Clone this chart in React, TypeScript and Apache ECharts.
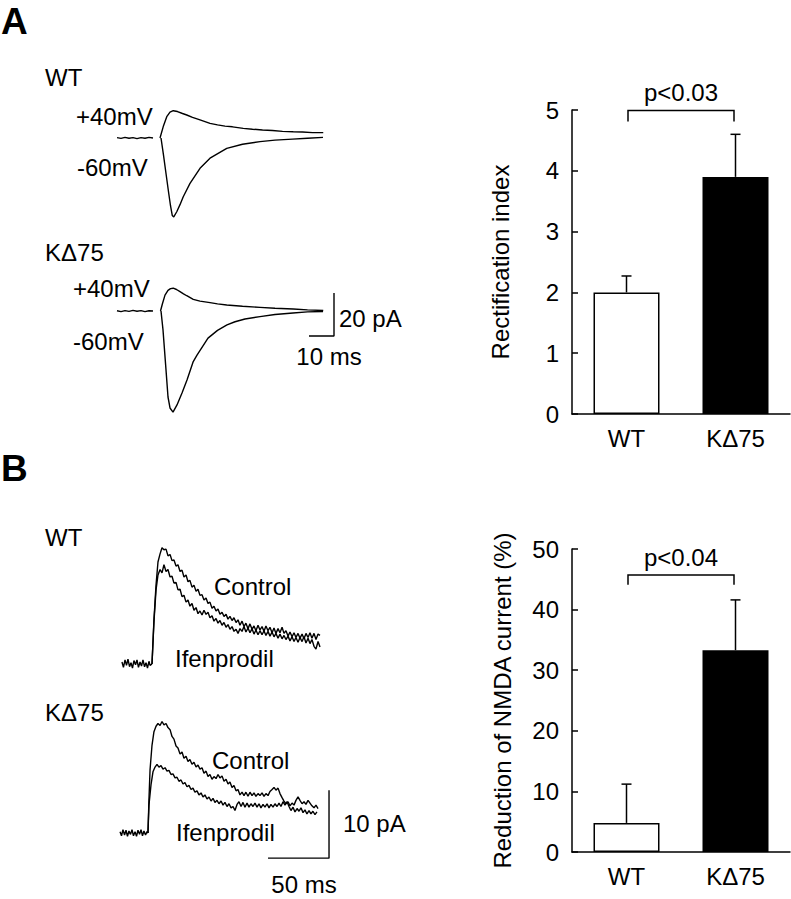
import React, { useEffect, useRef } from "react";
import * as echarts from "echarts";

const FONT = '"Liberation Sans", Arial, Helvetica, sans-serif';

// ---------- Panel A traces (x: ms, y: pA) ----------
const WT_A_BASE = [[-17.2, 0.2], [-15.6, -0.2], [-14, 0.3], [-12.4, -0.1], [-10.8, 0.2], [-9.2, -0.3], [-7.6, 0.2], [-6, -0.1], [-4.4, 0.3], [-2.8, 0]];
const WT_A_P40 = [[0, 0], [1.3, 5.3], [2.7, 9.9], [4, 12], [5.3, 12.7], [7, 12.3], [9, 11.4], [10.7, 10.7], [13, 9.6], [16, 8.4], [18, 7.6], [20, 6.8], [23, 6.1], [26, 5.5], [29, 5.2], [33.3, 4.5], [37, 4.1], [41, 3.7], [45, 3.5], [49, 3.1], [53.3, 2.9], [57, 2.8], [61, 2.5], [65.3, 2.5]];
const WT_A_M60 = [[0.4, 0], [1.4, -8], [2.4, -16.5], [3.4, -25], [4.2, -31.5], [4.9, -36], [5.5, -36.7], [6.7, -34.3], [8, -31], [9.3, -27.3], [12, -21.1], [16, -14.1], [20, -9.4], [26.7, -4.8], [33, -2.9], [40, -1.7], [46, -1], [53, -0.5], [59, -0.1], [65.2, 0.3]];

const K_A_BASE = [[-17.2, 0.1], [-15.6, -0.3], [-14, 0.2], [-12.4, -0.2], [-10.8, 0.3], [-9.2, -0.1], [-7.6, 0.2], [-6, -0.3], [-4.4, 0.1], [-2.8, 0]];
const K_A_P40 = [[0.2, 0], [1, 3.5], [2, 7.4], [3.2, 9.6], [4.2, 10.4], [5.3, 10.6], [6.6, 10], [8, 9], [9.4, 8], [10.7, 7.1], [13.3, 5.4], [16, 4.6], [20, 3.9], [23, 3.3], [26.7, 2.8], [33, 2.2], [40, 1.7], [46, 1.3], [53.3, 0.9], [59, 0.5], [65.3, 0.2]];
const K_A_M60 = [[0.4, 0], [1.2, -8.8], [2.4, -27.4], [3.2, -40], [4, -45.1], [5.2, -47], [6.8, -43.7], [8.8, -38.1], [10.8, -32.1], [13.3, -23.5], [14.8, -20.5], [19.2, -12.6], [23, -9], [26.8, -6.5], [30, -5], [34, -3.7], [40, -2.6], [46, -1.6], [53.2, -0.9], [59, -0.4], [65.2, -0.2]];

const SCALE_BAR_A = [[59.6, -11.6], [69.6, -11.6], [69.6, 8.4]]; // 10 ms, 20 pA

// ---------- Panel B traces (x: ms, y: pA) ----------
const WT_B_BASE = [[-24.6, 0.3], [-23.4, -0.5], [-22.1, 0.6], [-20.9, -0.2], [-19.7, 0.7], [-18.4, -0.4], [-17.2, 0.2], [-16, -0.6], [-14.8, 0.5], [-13.5, -0.1], [-12.3, 0.6], [-11.1, -0.5], [-9.8, 0.3], [-8.6, -0.3], [-7.4, 0.6], [-6.1, -0.4], [-4.9, 0.2], [-3.7, -0.6], [-2.5, 0.4], [-1.6, -0.2], [0, 0]];
const WT_B_CONTROL = [[0, 0], [1.6, 6.5], [3.3, 11.6], [4.9, 15], [6.6, 16.2], [8.2, 17.1], [9.8, 16.8], [11.5, 16.9], [13.1, 15.9], [14.8, 16.1], [16.4, 15.2], [18, 15.3], [19.7, 14.4], [21.3, 14.6], [23, 13.6], [24.6, 13.8], [26.2, 12.8], [27.9, 13.1], [29.5, 12.1], [31.1, 12.3], [32.8, 11.3], [34.4, 11.6], [36.1, 10.7], [37.7, 11], [39.3, 10.1], [41, 10.2], [42.6, 9.4], [44.3, 9.7], [45.9, 8.9], [47.5, 9.1], [49.2, 8.2], [50.8, 8.5], [52.5, 7.8], [54.1, 8.1], [55.7, 7.3], [57.4, 7.6], [59, 7], [60.7, 7.3], [62.3, 6.6], [63.9, 7], [65.6, 6.4], [67.2, 6.8], [68.9, 6.1], [70.5, 6.5], [72.1, 5.7], [73.8, 6.3], [75.4, 5.5], [77, 6], [78.7, 5.2], [80.3, 5.9], [82, 5.1], [83.6, 5.6], [85.2, 4.9], [86.9, 5.7], [88.5, 5], [90.2, 5.5], [91.8, 4.8], [93.4, 5.6], [95.1, 4.9], [96.7, 5.4], [98.4, 4.6], [100, 5.3], [101.6, 4.5], [103.3, 5.2], [104.9, 4.6], [106.6, 5.4], [108.2, 4.5], [109.8, 4.9], [111.5, 4.1], [113.1, 4.7], [114.8, 4], [116.4, 4.6], [118, 3.9], [119.7, 4.5], [121.3, 3.8], [123, 4.4], [124.6, 3.7], [126.2, 4.5], [127.9, 3.9], [129.5, 4.6], [131.1, 3.8], [132.8, 4.5], [134.4, 3.6], [136.1, 4.4], [137.7, 4.2]];
const WT_B_IFEN = [[0, 0], [1.6, 6.2], [3.3, 10.9], [4.9, 13.1], [6.6, 13.9], [8.2, 13.4], [9.8, 14.6], [11.5, 13.6], [13.1, 13.9], [14.8, 12.8], [16.4, 12.9], [18, 11.9], [19.7, 12], [21.3, 10.9], [23, 11], [24.6, 9.9], [26.2, 10.1], [27.9, 9.1], [29.5, 9.4], [31.1, 8.5], [32.8, 8.9], [34.4, 7.9], [36.1, 8.3], [37.7, 7.4], [39.3, 7.8], [41, 7.2], [42.6, 7.9], [44.3, 7.3], [45.9, 7.6], [47.5, 6.8], [49.2, 7.1], [50.8, 6.3], [52.5, 6.7], [54.1, 6], [55.7, 6.4], [57.4, 5.7], [59, 6.1], [60.7, 5.4], [62.3, 5.8], [63.9, 5.1], [65.6, 5.5], [67.2, 4.8], [68.9, 5.1], [70.5, 4.5], [72.1, 5.2], [73.8, 4.8], [75.4, 5.5], [77, 4.7], [78.7, 5.3], [80.3, 4.6], [82, 5.2], [83.6, 4.4], [85.2, 5], [86.9, 4.3], [88.5, 4.9], [90.2, 4.3], [91.8, 4.9], [93.4, 4.2], [95.1, 4.8], [96.7, 4.1], [98.4, 4.7], [100, 4], [101.6, 4.5], [103.3, 3.8], [104.9, 4.4], [106.6, 3.7], [108.2, 4.2], [109.8, 3.6], [111.5, 4.1], [113.1, 3.4], [114.8, 4], [116.4, 3.3], [118, 3.9], [119.7, 3.2], [121.3, 3.9], [123, 3.3], [124.6, 4], [126.2, 3.1], [127.9, 3.8], [129.5, 3], [131.1, 3.6], [132.8, 2.6], [134.4, 2.2], [136.1, 3.3], [137.7, 2.5]];

const K_B_BASE = [[-26.2, 0.2], [-25, -0.4], [-23.8, 0.5], [-22.5, -0.3], [-21.3, 0.4], [-20.1, -0.5], [-18.9, 0.3], [-17.6, -0.2], [-16.4, 0.5], [-15.2, -0.4], [-13.9, 0.2], [-12.7, -0.5], [-11.5, 0.4], [-10.2, -0.2], [-9, 0.5], [-7.8, -0.4], [-6.6, 0.3], [-5.3, -0.3], [-4.1, 0.2], [-3.3, 0]];
const K_B_CONTROL = [[-3.3, 0], [-2.5, 4.9], [-1.6, 9.3], [0, 12.9], [1.6, 14.9], [3.3, 15.7], [4.9, 16.1], [6.6, 15.8], [8.2, 16.4], [9.8, 15.9], [11.5, 16.1], [13.1, 15.5], [14.8, 15.2], [16.4, 14.2], [18, 13.8], [19.7, 12.8], [21.3, 12.5], [23, 11.6], [24.6, 11.9], [26.2, 11], [27.9, 11.3], [29.5, 10.5], [31.1, 10.8], [32.8, 10.1], [34.4, 10.4], [36.1, 9.7], [37.7, 10], [39.3, 9.4], [41, 9.6], [42.6, 8.8], [44.3, 9.1], [45.9, 8.3], [47.5, 8.6], [49.2, 7.9], [50.8, 8.3], [52.5, 8], [54.1, 8.6], [55.7, 8.1], [57.4, 8.4], [59, 7.6], [60.7, 7.9], [62.3, 7.2], [63.9, 7.5], [65.6, 6.7], [67.2, 7], [68.9, 6.2], [70.5, 6.4], [72.1, 5.6], [73.8, 6], [75.4, 5.5], [77, 6], [78.7, 5.4], [80.3, 6], [82, 5.5], [83.6, 5.9], [85.2, 5.4], [86.9, 5.8], [88.5, 5.5], [90.2, 5.9], [91.8, 5.4], [93.4, 5.8], [95.1, 5.5], [96.7, 6.1], [98.4, 6.4], [100, 6.7], [101.6, 6.3], [103.3, 6.6], [104.9, 5.8], [106.6, 5.2], [108.2, 4.7], [109.8, 4.3], [111.5, 4.6], [113.1, 4], [114.8, 4.4], [116.4, 4.1], [118, 4.8], [119.7, 5.3], [121.3, 4.8], [123, 4.3], [124.6, 4.6], [126.2, 4.2], [127.9, 4.8], [129.5, 4.4], [131.1, 4], [132.8, 3.7], [134.4, 4.1], [136.1, 3.6]];
const K_B_IFEN = [[-3.3, 0], [-2.5, 4.1], [-0.8, 7.1], [0.8, 9], [2.5, 9.7], [4.1, 10.1], [5.7, 9.7], [7.4, 9.9], [9, 9.4], [10.7, 9.6], [12.3, 9.1], [13.9, 9.2], [15.6, 8.6], [17.2, 8.7], [18.9, 8.1], [20.5, 8.2], [22.1, 7.6], [23.8, 7.8], [25.4, 7.2], [27, 7.4], [28.7, 6.8], [30.3, 7], [32, 6.4], [33.6, 6.6], [35.2, 6], [36.9, 6.2], [38.5, 5.6], [40.2, 5.9], [41.8, 5.3], [43.4, 5.6], [45.1, 5], [46.7, 5.3], [48.4, 4.7], [50, 5.1], [51.6, 4.5], [53.3, 4.8], [54.9, 4.3], [56.6, 4.7], [58.2, 4.1], [59.8, 4.5], [61.5, 3.9], [63.1, 4.3], [64.8, 3.7], [66.4, 3.9], [68, 3.3], [69.7, 4.2], [71.3, 4.6], [73, 3.9], [74.6, 4.5], [76.2, 3.8], [77.9, 4.4], [79.5, 3.8], [81.1, 4.3], [82.8, 3.9], [84.4, 4.4], [86.1, 3.8], [87.7, 4.3], [89.3, 3.7], [91, 4.2], [92.6, 3.8], [94.3, 4.3], [95.9, 3.7], [97.5, 4.2], [99.2, 3.8], [100.8, 4.3], [102.5, 3.9], [104.1, 4.4], [105.7, 3.9], [107.4, 4.6], [109, 4.1], [110.7, 4.6], [112.3, 3.9], [113.9, 3.3], [115.6, 3.8], [117.2, 3.1], [118.9, 3.6], [120.5, 3.2], [122.1, 3.7], [123.8, 3], [125.4, 3.4], [127, 2.8], [128.7, 3.3], [130.3, 2.8], [131.9, 3.2], [133.6, 2.7], [135.2, 3.1]];

const SCALE_BAR_B = [[95.1, -3.7], [145.1, -3.7], [145.1, 6.3]]; // 50 ms, 10 pA

// ---------- Bar charts ----------
const CATEGORIES = ["WT", "K\u039475"];
const BAR_FILLS = ["#ffffff", "#000000"];
const RI_MEANS = [2.0, 3.9];
const RI_ERRS = [0.27, 0.7];
const RI_TICKS = { min: 0, max: 5, interval: 1 };
const NMDA_MEANS = [4.8, 33.3];
const NMDA_ERRS = [6.4, 8.3];
const NMDA_TICKS = { min: 0, max: 50, interval: 10 };
const P_A = "p<0.03";
const P_B = "p<0.04";
const BRACKET_A = [4.99, 0.18];
const BRACKET_B = [45.7, 1.6];

const BLACK = "#000";

function trace(data: number[][], idx: number) {
  return {
    type: "line",
    xAxisIndex: idx,
    yAxisIndex: idx,
    data,
    symbol: "none",
    showSymbol: false,
    silent: true,
    lineStyle: { color: BLACK, width: 1.4 },
    z: 3,
  };
}

function hiddenX(idx: number, min: number, max: number) {
  return { gridIndex: idx, type: "value", min, max, show: false };
}

function catAxis(idx: number) {
  return {
    gridIndex: idx,
    type: "category",
    data: CATEGORIES,
    axisLine: { show: true, lineStyle: { color: BLACK, width: 1.5 } },
    axisTick: { show: false },
    axisLabel: { color: BLACK, fontSize: 24, fontFamily: FONT, margin: 12 },
    splitLine: { show: false },
  };
}

function valAxis(idx: number, t: { min: number; max: number; interval: number }, name: string, gap: number) {
  return {
    gridIndex: idx,
    type: "value",
    min: t.min,
    max: t.max,
    interval: t.interval,
    name,
    nameLocation: "middle",
    nameRotate: 90,
    nameGap: gap,
    nameTextStyle: { color: BLACK, fontSize: 24, fontFamily: FONT },
    axisLine: { show: true, lineStyle: { color: BLACK, width: 1.5 } },
    axisTick: { show: true, inside: true, length: 6, lineStyle: { color: BLACK, width: 1.5 } },
    axisLabel: { color: BLACK, fontSize: 24, fontFamily: FONT, margin: 13 },
    splitLine: { show: false },
  };
}

function barSeries(idx: number, means: number[]) {
  return {
    type: "bar",
    xAxisIndex: idx,
    yAxisIndex: idx,
    barWidth: 66,
    silent: true,
    data: means.map((v, i) => ({
      value: v,
      itemStyle: { color: BAR_FILLS[i], borderColor: BLACK, borderWidth: 1.5 },
    })),
    z: 2,
  };
}

function errSeries(idx: number, means: number[], errs: number[]) {
  return {
    type: "custom",
    xAxisIndex: idx,
    yAxisIndex: idx,
    clip: false,
    silent: true,
    z: 5,
    data: means.map((v, i) => [i, v, errs[i]]),
    renderItem: (_p: any, api: any) => {
      const base = api.coord([api.value(0), api.value(1)]);
      const top = api.coord([api.value(0), api.value(1) + api.value(2)]);
      const st = { stroke: BLACK, lineWidth: 1.5 };
      return {
        type: "group",
        children: [
          { type: "line", shape: { x1: base[0], y1: base[1], x2: base[0], y2: top[1] }, style: st },
          { type: "line", shape: { x1: base[0] - 5, y1: top[1], x2: base[0] + 5, y2: top[1] }, style: st },
        ],
      };
    },
  };
}

function bracketSeries(idx: number, bracket: number[], ptext: string) {
  return {
    type: "custom",
    xAxisIndex: idx,
    yAxisIndex: idx,
    clip: false,
    silent: true,
    z: 5,
    data: [[0, bracket[0], 1, bracket[1]]],
    renderItem: (_p: any, api: any) => {
      const level = api.value(1);
      const drop = api.value(3);
      const a = api.coord([api.value(0), level]);
      const b = api.coord([api.value(2), level]);
      const a2 = api.coord([api.value(0), level - drop]);
      const xa = a[0] + 1.5;
      const xb = b[0] - 1.5;
      return {
        type: "group",
        children: [
          {
            type: "polyline",
            shape: { points: [[xa, a2[1]], [xa, a[1]], [xb, a[1]], [xb, a2[1]]] },
            style: { stroke: BLACK, lineWidth: 1.5, fill: null },
          },
          {
            type: "text",
            x: (xa + xb) / 2,
            y: a[1] - 18,
            style: { text: ptext, fontSize: 24, fontFamily: FONT, fill: BLACK, align: "center", verticalAlign: "middle" },
          },
        ],
      };
    },
  };
}

function label(text: string, x: number, y: number, align = "left", size = 24, weight = "normal") {
  return {
    type: "text",
    x,
    y,
    silent: true,
    style: { text, fontSize: size, fontWeight: weight, fontFamily: FONT, fill: BLACK, align, verticalAlign: "middle" },
  };
}

export default function App() {
  const ref = useRef<HTMLDivElement>(null);
  useEffect(() => {
    const chart = echarts.init(ref.current as HTMLDivElement, null, { renderer: "svg" });
    const option: any = {
      animation: false,
      backgroundColor: "#fff",
      grid: [
        { left: 110, top: 95, width: 250, height: 129, outerBoundsMode: "none" },
        { left: 110, top: 268, width: 250, height: 150.5, outerBoundsMode: "none" },
        { left: 115.4, top: 528, width: 219.6, height: 149.6, outerBoundsMode: "none" },
        { left: 115.4, top: 697, width: 219.6, height: 170, outerBoundsMode: "none" },
        { left: 572, top: 110, width: 218, height: 304, outerBoundsMode: "none" },
        { left: 572, top: 549, width: 218, height: 303, outerBoundsMode: "none" },
      ],
      xAxis: [
        hiddenX(0, -20, 80),
        hiddenX(1, -20, 80),
        hiddenX(2, -30, 150),
        hiddenX(3, -30, 150),
        catAxis(4),
        catAxis(5),
      ],
      yAxis: [
        { gridIndex: 0, type: "value", min: -40, max: 20, show: false },
        { gridIndex: 1, type: "value", min: -50, max: 20, show: false },
        { gridIndex: 2, type: "value", min: -2, max: 20, show: false },
        { gridIndex: 3, type: "value", min: -5, max: 20, show: false },
        valAxis(4, RI_TICKS, "Rectification index", 60),
        valAxis(5, NMDA_TICKS, "Reduction of NMDA current (%)", 58),
      ],
      series: [
        trace(WT_A_BASE, 0),
        trace(WT_A_P40, 0),
        trace(WT_A_M60, 0),
        trace(K_A_BASE, 1),
        trace(K_A_P40, 1),
        trace(K_A_M60, 1),
        trace(SCALE_BAR_A, 1),
        trace(WT_B_BASE, 2),
        trace(WT_B_CONTROL, 2),
        trace(WT_B_IFEN, 2),
        trace(K_B_BASE, 3),
        trace(K_B_CONTROL, 3),
        trace(K_B_IFEN, 3),
        trace(SCALE_BAR_B, 3),
        barSeries(4, RI_MEANS),
        errSeries(4, RI_MEANS, RI_ERRS),
        bracketSeries(4, BRACKET_A, P_A),
        barSeries(5, NMDA_MEANS),
        errSeries(5, NMDA_MEANS, NMDA_ERRS),
        bracketSeries(5, BRACKET_B, P_B),
      ],
      graphic: [
        label("A", 1, 21, "left", 37, "bold"),
        label("B", 1, 468, "left", 37, "bold"),
        label("WT", 45, 77),
        label("+40mV", 76, 116),
        label("-60mV", 77, 167),
        label("K\u039475", 45, 252),
        label("+40mV", 73, 288),
        label("-60mV", 73, 341),
        label("20 pA", 339, 318),
        label("10 ms", 329, 356, "center"),
        label("WT", 45, 537),
        label("Control", 214, 586),
        label("Ifenprodil", 175, 658),
        label("K\u039475", 45, 712),
        label("Control", 212, 760),
        label("Ifenprodil", 176, 832),
        label("10 pA", 343, 823),
        label("50 ms", 304, 884, "center"),
      ],
    };
    chart.setOption(option);
    return () => chart.dispose();
  }, []);
  return (
    <div
      ref={ref}
      style={{ position: "fixed", left: 0, top: 0, width: 791, height: 899, background: "#fff" }}
    />
  );
}
